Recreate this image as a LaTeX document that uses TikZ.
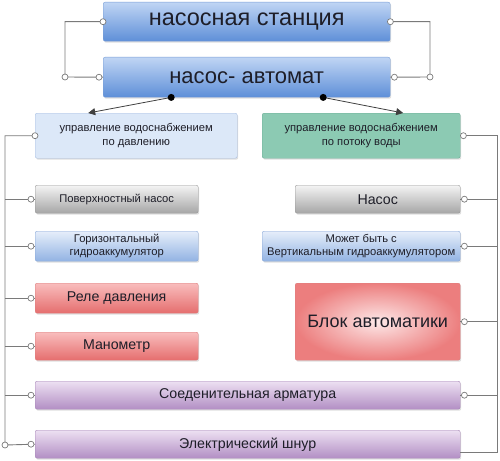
\documentclass[tikz,border=0pt]{standalone}
\usepackage{fontspec}
\setmainfont{Liberation Sans}
\usetikzlibrary{arrows.meta,shadows}
\definecolor{bbT}{HTML}{C0D5F4}
\definecolor{bbB}{HTML}{5E8FD8}
\definecolor{bbD}{HTML}{7A9FD6}
\definecolor{lbF}{HTML}{DCE8F8}
\definecolor{lbD}{HTML}{A9C0E3}
\definecolor{tlF}{HTML}{8CCAB3}
\definecolor{tlD}{HTML}{6EAE98}
\definecolor{gyT}{HTML}{F4F4F4}
\definecolor{gyB}{HTML}{A6A6A6}
\definecolor{gyD}{HTML}{9A9A9A}
\definecolor{sbT}{HTML}{E6EEFA}
\definecolor{sbB}{HTML}{92B3E3}
\definecolor{sbD}{HTML}{8AA9D8}
\definecolor{rdT}{HTML}{F9BDBD}
\definecolor{rdB}{HTML}{E56E6E}
\definecolor{rdD}{HTML}{DB8080}
\definecolor{rdI}{HTML}{FDE8E8}
\definecolor{rdO}{HTML}{EC7E7E}
\definecolor{puT}{HTML}{EDE0F2}
\definecolor{puB}{HTML}{B28FC4}
\definecolor{puD}{HTML}{A888B8}
\definecolor{txt}{HTML}{1E1E28}
\definecolor{lnC}{HTML}{7A7A7A}
\begin{document}
\begin{tikzpicture}[x=1pt,y=-1pt,
  box/.style={rounded corners=2pt, anchor=north west, inner sep=1pt, align=center,
    text=txt, drop shadow={shadow xshift=1pt, shadow yshift=-1.5pt, opacity=0.25}},
  bigblue/.style={box, top color=bbT, bottom color=bbB, draw=bbD},
  lightblue/.style={box, fill=lbF, draw=lbD},
  teal/.style={box, fill=tlF, draw=tlD},
  graybox/.style={box, top color=gyT, bottom color=gyB, draw=gyD},
  smallblue/.style={box, top color=sbT, bottom color=sbB, draw=sbD},
  redbox/.style={box, top color=rdT, bottom color=rdB, draw=rdD},
  redbig/.style={box, inner color=rdI, outer color=rdO, draw=rdD},
  purplebox/.style={box, top color=puT, bottom color=puB, draw=puD},
  conn/.style={draw=lnC, line width=0.9pt},
  ocirc/.style={draw=lnC, fill=white, line width=0.7pt},
  arr/.style={draw=black!75, line width=0.8pt, -{Triangle[length=7pt,width=7pt]}},
  fbig/.style={font=\fontsize{23.5}{26}\selectfont},
  fmid/.style={font=\fontsize{22}{24}\selectfont},
  fnorm/.style={font=\fontsize{14.2}{16}\selectfont},
  fsmall/.style={font=\fontsize{11.2}{13.5}\selectfont},
]
\useasboundingbox (0,0) rectangle (500,460);

% nodes
\node[bigblue, fbig, minimum width=287pt, minimum height=39pt] (top) at (103,2) {насосная станция};
\node[bigblue, fmid, minimum width=287pt, minimum height=40pt] (auto) at (103,57) {насос- автомат};
\node[lightblue, fsmall, minimum width=202pt, minimum height=45pt] (pd) at (35,113) {управление водоснабжением\\по давлению};
\node[teal, fsmall, minimum width=198pt, minimum height=45pt] (pp) at (262,113) {управление водоснабжением\\по потоку воды};

\node[graybox, fsmall, minimum width=163pt, minimum height=28pt] (L1) at (35,185) {Поверхностный насос};
\node[smallblue, fsmall, minimum width=163pt, minimum height=30pt] (L2) at (35,231) {Горизонтальный\\гидроаккумулятор};
\node[redbox, fnorm, minimum width=163pt, minimum height=30pt] (L3) at (35,283) {Реле давления};
\node[redbox, fnorm, minimum width=163pt, minimum height=28pt] (L4) at (35,332) {Манометр};
\node[purplebox, fnorm, minimum width=425pt, minimum height=28pt] (sa) at (35,381) {Соеденительная арматура};
\node[purplebox, fnorm, minimum width=425pt, minimum height=28pt] (el) at (35,430) {Электрический шнур};

\node[graybox, fnorm, minimum width=165pt, minimum height=28pt] (R1) at (295,185) {Насос};
\node[smallblue, fsmall, minimum width=198pt, minimum height=30pt] (R2) at (262,231) {Может быть с\\Вертикальным гидроаккумулятором};
\node[redbig, font=\fontsize{18}{20}\selectfont, minimum width=165pt, minimum height=77pt] (R3) at (295,283) {Блок автоматики};

% top brackets
\coordinate (TL) at (65,77);
\coordinate (TR) at (430,77);
\draw[conn] (top.west) -| (TL) -- (auto.west);
\draw[conn] (top.east) -| (TR) -- (auto.east);
\draw[ocirc] (top.west) circle (3pt);
\draw[ocirc] (TL) circle (3pt);
\draw[ocirc] ([xshift=-4pt]auto.west) circle (3pt);
\draw[ocirc] (top.east) circle (3pt);
\draw[ocirc] (TR) circle (3pt);
\draw[ocirc] ([xshift=4pt]auto.east) circle (3pt);

% arrows
\draw[arr] ([xshift=-75.5pt]auto.south) -- ([xshift=-48pt]pd.north);
\draw[arr] ([xshift=76.5pt]auto.south) -- ([xshift=42pt]pp.north);
\fill[black] ([xshift=-75.5pt]auto.south) circle (3.5pt);
\fill[black] ([xshift=76.5pt]auto.south) circle (3.5pt);

% left bus
\coordinate (LB) at (5,445);
\draw[conn] (pd.west) -| (LB) -- (el.west);
\foreach \n in {L1,L2,L3,L4,sa}
  \draw[conn] (\n.west -| LB) -- (\n.west);
\draw[ocirc] (pd.west) circle (3pt);
\draw[ocirc] (LB) circle (3pt);
\foreach \n in {L1,L2,L3,L4,sa,el}
  \draw[ocirc] ([xshift=-4pt]\n.west) circle (3pt);

% right bus
\coordinate (RB) at (497,452);
\draw[conn] (pp.east) -| (RB) -- (RB -| el.east);
\foreach \n in {R1,R2,R3,sa}
  \draw[conn] (\n.east) -- (\n.east -| RB);
\draw[ocirc] ([xshift=3pt]pp.east) circle (3pt);
\foreach \n in {R1,R2,R3,sa}
  \draw[ocirc] ([xshift=4pt]\n.east) circle (3pt);
\end{tikzpicture}
\end{document}
